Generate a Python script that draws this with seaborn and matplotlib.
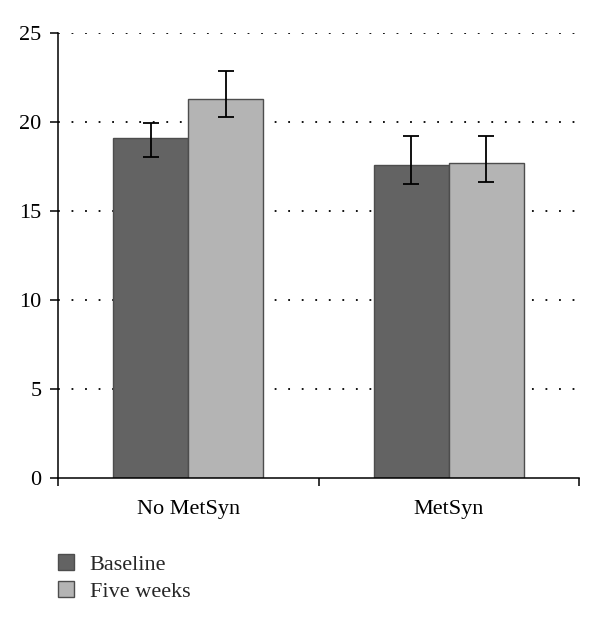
import matplotlib
matplotlib.use('Agg')
import matplotlib.pyplot as plt
from matplotlib.patches import Patch
import pandas as pd
import seaborn as sns

categories = ['No MetSyn', 'MetSyn']
groups = ['Baseline', 'Five weeks']
baseline = [19.1, 17.6]
five_weeks = [21.3, 17.7]
# error bars (lower, upper)
baseline_err_lo = [1.05, 1.1]
baseline_err_hi = [0.85, 1.6]
five_weeks_err_lo = [1.0, 1.05]
five_weeks_err_hi = [1.55, 1.5]
y_ticks = [0, 5, 10, 15, 20, 25]

colors = ['#636363', '#b4b4b4']
edge = '#4d4d4d'

df = pd.DataFrame({
    'group': categories * 2,
    'period': [groups[0]] * 2 + [groups[1]] * 2,
    'value': baseline + five_weeks,
})

sns.set_style('white')
plt.rcParams['font.family'] = ['Liberation Serif', 'DejaVu Serif']

fig = plt.figure(figsize=(6, 6.27), dpi=100)
ax = fig.add_axes([0.0967, 0.2376, 0.8683, 0.7098])

sns.barplot(data=df, x='group', y='value', hue='period', order=categories,
            hue_order=groups, palette=colors, width=0.576, errorbar=None,
            edgecolor=edge, linewidth=1.0, ax=ax, legend=False, zorder=2)

errs = [(baseline, baseline_err_lo, baseline_err_hi),
        (five_weeks, five_weeks_err_lo, five_weeks_err_hi)]
for cont, (vals, lo, hi) in zip(ax.containers, errs):
    xs = [b.get_x() + b.get_width() / 2 for b in cont]
    ax.errorbar(xs, vals, yerr=[lo, hi], fmt='none', ecolor='black',
                elinewidth=1.3, capsize=6, capthick=1.3, zorder=3)

ax.set_xlim(-0.5, 1.5)
ax.set_ylim(0, 25)
ax.set_yticks(y_ticks)
ax.set_xlabel('')
ax.set_ylabel('')

# dotted horizontal gridlines (none at zero)
ax.yaxis.grid(True, linestyle=(0, (1, 6.5)), color='black', linewidth=1.3)
ax.xaxis.grid(False)
ax.set_axisbelow(True)
ax.yaxis.get_gridlines()[0].set_visible(False)

for s in ['top', 'right']:
    ax.spines[s].set_visible(False)
for s in ['left', 'bottom']:
    ax.spines[s].set_color('black')
    ax.spines[s].set_linewidth(1.1)

ax.set_xticks([-0.5, 0.5, 1.5], minor=True)
ax.tick_params(axis='x', which='major', bottom=False, labelsize=16, pad=12, colors='black')
ax.tick_params(axis='x', which='minor', bottom=True, length=6, width=1.1, direction='out', colors='black')
ax.tick_params(axis='y', left=True, length=6, width=1.1, direction='out', labelsize=16, pad=6, colors='black')

handles = [Patch(facecolor=c, edgecolor=edge, linewidth=1.0) for c in colors]
fig.legend(handles, groups, loc='upper left', bbox_to_anchor=(0.096, 0.117),
           frameon=False, fontsize=16, handlelength=0.75, handleheight=0.75,
           handletextpad=0.7, labelspacing=0.3, borderaxespad=0, borderpad=0)

fig.savefig('out.png', dpi=100)
